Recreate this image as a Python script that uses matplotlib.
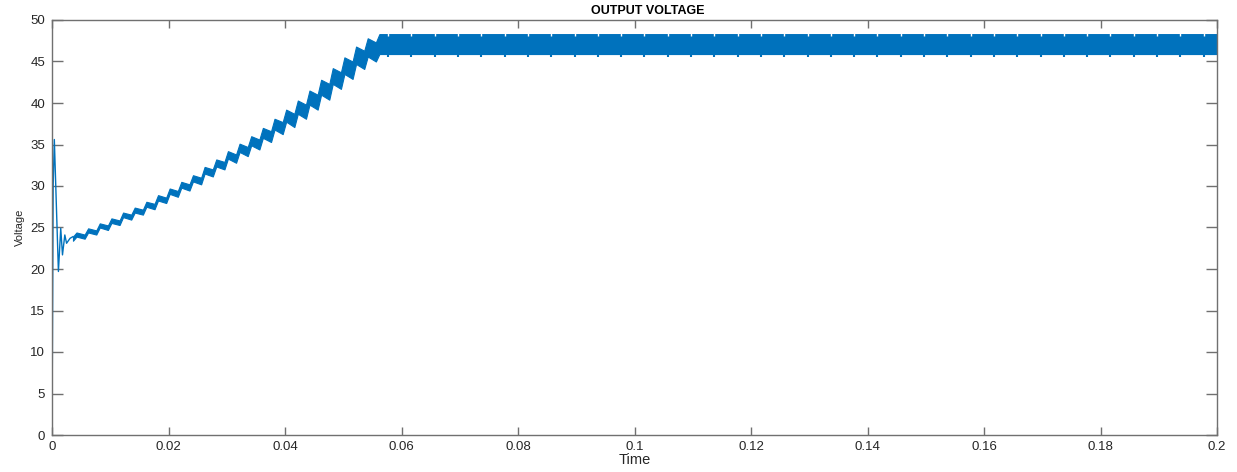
import matplotlib.pyplot as plt
import numpy as np

plt.rcParams['font.family'] = ['Liberation Sans', 'DejaVu Sans']

blue = '#0072BD'

# start-up transient (s, V)
start_t = [0.0, 0.0002, 0.0004, 0.0011, 0.0015, 0.0018, 0.0022, 0.0025, 0.0031, 0.0036]
start_v = [0.0, 30.0, 35.6, 19.7, 24.9, 21.7, 24.1, 23.1, 23.7, 23.9]

# ramp: ripple band, one step every 2 ms (trough just before the jump, then peak)
trough_t = [0.0036, 0.0056, 0.0076, 0.0096, 0.0116, 0.0136, 0.0156, 0.0176, 0.0196,
            0.0216, 0.0236, 0.0256, 0.0276, 0.0296, 0.0316, 0.0336, 0.0356, 0.0376,
            0.0396, 0.0416, 0.0436, 0.0456, 0.0476, 0.0496, 0.0516, 0.0536, 0.0556]
trough_hi = [23.9, 24.15, 24.65, 25.25, 25.85, 26.55, 27.15, 27.85, 28.6, 29.4, 30.2, 31.0,
             32.0, 32.9, 33.8, 34.7, 35.6, 36.6, 37.7, 38.7, 39.8, 41.0, 42.3, 43.7,
             45.0, 46.3, 47.3]
peak_t = [0.0042, 0.0062, 0.0082, 0.0102, 0.0122, 0.0142, 0.0162, 0.0182, 0.0202,
          0.0222, 0.0242, 0.0262, 0.0282, 0.0302, 0.0322, 0.0342, 0.0362, 0.0382,
          0.0402, 0.0422, 0.0442, 0.0462, 0.0482, 0.0502, 0.0522, 0.0542]
peak_hi = [24.4, 24.9, 25.5, 26.1, 26.8, 27.4, 28.1, 28.9, 29.7, 30.5, 31.3, 32.3,
           33.2, 34.2, 35.1, 36.0, 37.0, 38.1, 39.2, 40.3, 41.5, 42.8, 44.2, 45.5,
           46.8, 47.8]
band_w = [0.5, 0.5, 0.5, 0.55, 0.55, 0.6, 0.6, 0.65, 0.65, 0.7, 0.75, 0.8, 0.85, 0.9,
          1.0, 1.1, 1.2, 1.3, 1.45, 1.6, 1.7, 1.8, 1.9, 2.0, 2.1, 2.2, 2.3]

# steady state band and the small dips every 4 ms
steady_t = [0.0562, 0.2]
steady_hi = 48.3
steady_lo = 45.9
dip_t = [0.0577, 0.0617, 0.0657, 0.0697, 0.0737, 0.0777, 0.0817, 0.0857, 0.0897,
         0.0937, 0.0977, 0.1017, 0.1057, 0.1097, 0.1137, 0.1177, 0.1217, 0.1257,
         0.1297, 0.1337, 0.1377, 0.1417, 0.1457, 0.1497, 0.1537, 0.1577, 0.1617,
         0.1657, 0.1697, 0.1737, 0.1777, 0.1817, 0.1857, 0.1897, 0.1937, 0.1977]

xticks = [0, 0.02, 0.04, 0.06, 0.08, 0.1, 0.12, 0.14, 0.16, 0.18, 0.2]
xtick_labels = ['0', '0.02', '0.04', '0.06', '0.08', '0.1', '0.12', '0.14', '0.16', '0.18', '0.2']
yticks = [0, 5, 10, 15, 20, 25, 30, 35, 40, 45, 50]

fig = plt.figure(figsize=(12.37, 4.72), dpi=100)
ax = fig.add_axes([52 / 1237, 37 / 472, 1165 / 1237, 415 / 472])

ax.plot(start_t, start_v, color=blue, lw=1.0)

t_pts, hi_pts, lo_pts = [], [], []
for i in range(len(peak_t)):
    t_pts += [trough_t[i], peak_t[i]]
    hi_pts += [trough_hi[i], peak_hi[i]]
    lo_pts += [trough_hi[i] - band_w[i], peak_hi[i] - band_w[i]]
t_pts.append(trough_t[-1])
hi_pts.append(trough_hi[-1])
lo_pts.append(trough_hi[-1] - band_w[-1])
t_pts += steady_t
hi_pts += [steady_hi] * len(steady_t)
lo_pts += [steady_lo] * len(steady_t)

ax.fill_between(t_pts, lo_pts, hi_pts, color=blue, lw=0.8, edgecolor=blue)
ax.vlines(dip_t, steady_lo - 0.3, steady_lo, color=blue, lw=1.5)
ax.vlines(dip_t, steady_hi - 0.2, steady_hi + 0.1, color='white', lw=1.0)

ax.set_xlim(0, 0.2)
ax.set_ylim(0, 50)
ax.set_xticks(xticks)
ax.set_xticklabels(xtick_labels)
ax.set_yticks(yticks)

for s in ax.spines.values():
    s.set_color('#707070')
    s.set_linewidth(1.0)
ax.tick_params(axis='both', direction='in', colors='#707070', labelcolor='#262626',
               labelsize=9.5, top=True, right=True, width=1.0)
ax.tick_params(axis='x', length=6, pad=4)
ax.tick_params(axis='y', length=8, pad=5)

ax.set_title('OUTPUT VOLTAGE', fontsize=9, fontweight='bold', color='black', pad=4, x=0.511)
ax.set_xlabel('Time', fontsize=10.5, color='#262626', labelpad=0)
ax.set_ylabel('Voltage', fontsize=8, color='#262626', labelpad=4)

fig.savefig('out.png', dpi=100)
